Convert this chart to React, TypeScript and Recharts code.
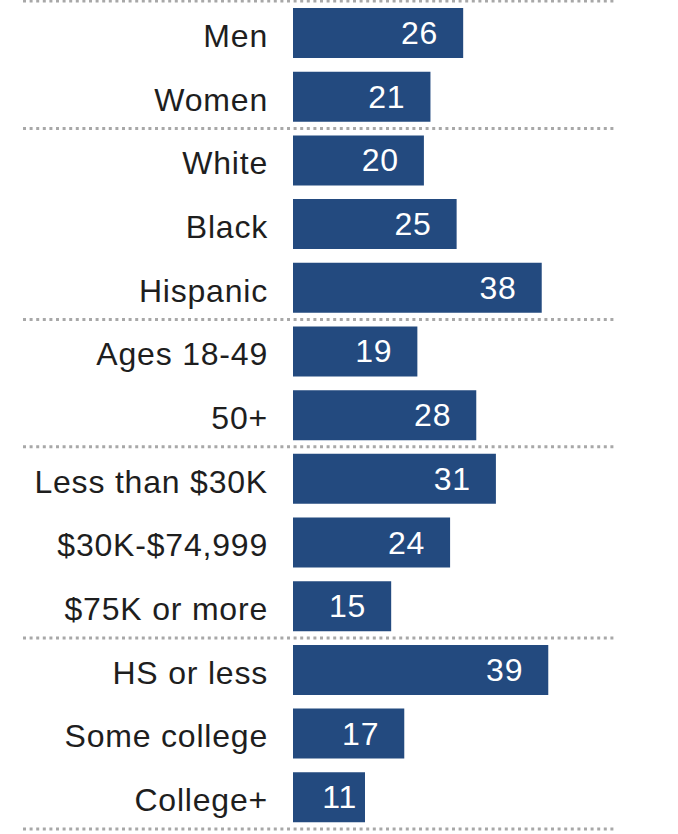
import React from 'react';
import { BarChart, Bar, XAxis, YAxis, LabelList, ReferenceLine } from 'recharts';

const categories = [
  'Men',
  'Women',
  'White',
  'Black',
  'Hispanic',
  'Ages 18-49',
  '50+',
  'Less than $30K',
  '$30K-$74,999',
  '$75K or more',
  'HS or less',
  'Some college',
  'College+',
];
const values = [26, 21, 20, 25, 38, 19, 28, 31, 24, 15, 39, 17, 11];
const groupStarts = ['Men', 'White', 'Ages 18-49', 'Less than $30K', 'HS or less'];
const groupEnds = ['College+'];

const data = categories.map((name, i) => ({ name, value: values[i] }));

const FONT = '"Liberation Sans", Arial, sans-serif';
const BAR = '#234a7f';

const CategoryTick = (props: any) => {
  const { x, y, payload } = props;
  return (
    <text
      x={x}
      y={y + 3}
      textAnchor="end"
      dominantBaseline="central"
      fontFamily={FONT}
      fontSize={32}
      letterSpacing={0.8}
      fill="#1e1e1e"
    >
      {payload.value}
    </text>
  );
};

const ValueLabel = (props: any) => {
  const { x, y, width, height, value } = props;
  const off = width > 80 ? 25 : 8;
  return (
    <text
      x={x + width - off}
      y={y + height / 2}
      textAnchor="end"
      dominantBaseline="central"
      fontFamily={FONT}
      fontSize={32}
      letterSpacing={0.8}
      fill="#ffffff"
    >
      {value}
    </text>
  );
};

const DottedLine = (props: any) => {
  const { y1 } = props;
  return (
    <line
      x1={23}
      x2={617}
      y1={y1}
      y2={y1}
      stroke="#a8a8a8"
      strokeWidth={3}
      strokeDasharray="3 3.6"
    />
  );
};

export default function App() {
  return (
    <div style={{ position: 'absolute', left: 0, top: 0 }}>
      <BarChart
        width={678}
        height={834}
        data={data}
        layout="vertical"
        margin={{ top: 1, right: 61, bottom: 5, left: 0 }}
      >
        <XAxis type="number" domain={[0, 49.5]} hide />
        <YAxis
          type="category"
          dataKey="name"
          width={293}
          axisLine={false}
          tickLine={false}
          tickSize={0}
          tickMargin={25}
          interval={0}
          tick={<CategoryTick />}
        />
        {groupStarts.map((c) => (
          <ReferenceLine
            key={'s' + c}
            y={c}
            position="start"
            ifOverflow="visible"
            shape={<DottedLine />}
          />
        ))}
        {groupEnds.map((c) => (
          <ReferenceLine
            key={'e' + c}
            y={c}
            position="end"
            ifOverflow="visible"
            shape={<DottedLine />}
          />
        ))}
        <Bar dataKey="value" fill={BAR} barSize={50} isAnimationActive={false}>
          <LabelList dataKey="value" content={<ValueLabel />} />
        </Bar>
      </BarChart>
    </div>
  );
}
